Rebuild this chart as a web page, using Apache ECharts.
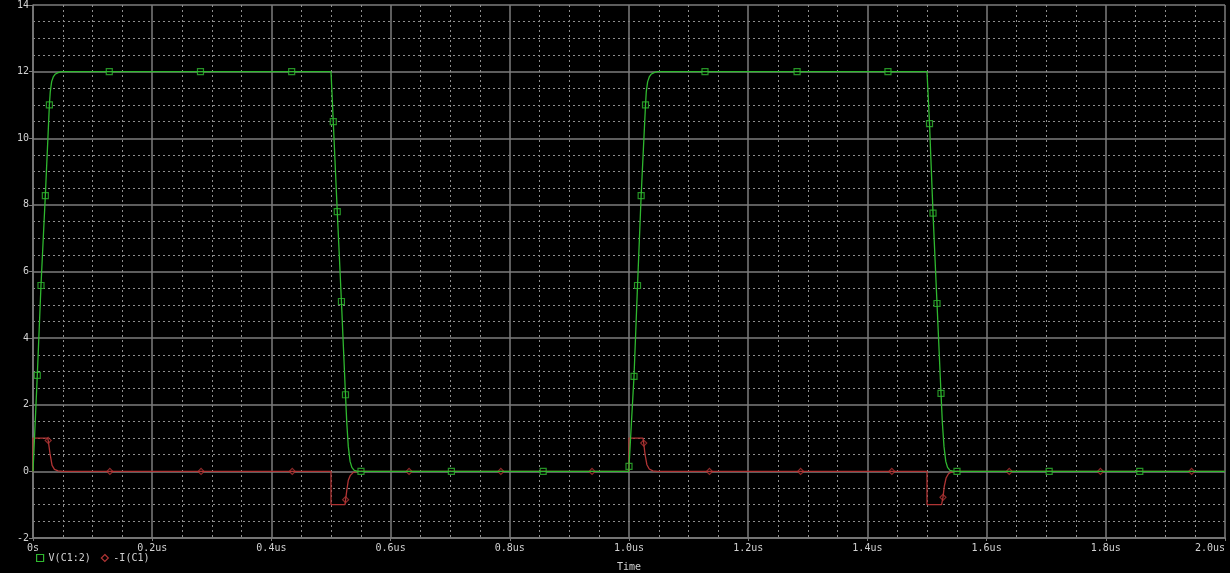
<!DOCTYPE html>
<html>
<head>
<meta charset="utf-8">
<script src="https://cdn.jsdelivr.net/npm/echarts@6/dist/echarts.min.js"></script>
<style>
  html, body { margin: 0; padding: 0; background: #000; }
  #main { width: 1230px; height: 573px; }
</style>
</head>
<body>
<div id="main"></div>
<script>
// V(C1:2) trace, time in us
const vTime = [0, 0.0072, 0.0134, 0.0207, 0.0275, 0.029, 0.0313, 0.034, 0.037, 0.042, 0.048,
  0.5, 0.5038, 0.5105, 0.5175, 0.5243, 0.5265, 0.529, 0.532, 0.535, 0.539, 0.545,
  0.9996, 1.0, 1.0084, 1.0143, 1.0204, 1.0277, 1.029, 1.0313, 1.034, 1.037, 1.042, 1.048,
  1.5, 1.5042, 1.5101, 1.5168, 1.5235, 1.5258, 1.5285, 1.5315, 1.5345, 1.5385, 1.545, 2.0];
const vVolt = [0, 2.88, 5.58, 8.28, 11.0, 11.4, 11.7, 11.84, 11.92, 11.97, 12,
  12, 10.5, 7.8, 5.1, 2.3, 1.45, 0.75, 0.3, 0.12, 0.03, 0,
  0, 0.15, 2.85, 5.58, 8.28, 11.0, 11.4, 11.7, 11.84, 11.92, 11.97, 12,
  12, 10.44, 7.75, 5.04, 2.34, 1.45, 0.75, 0.3, 0.12, 0.03, 0, 0];

// -I(C1) trace
const iTime = [0, 0, 0.0245, 0.0255, 0.0285, 0.032, 0.036, 0.042, 0.05,
  0.5, 0.5, 0.5235, 0.5245, 0.5265, 0.529, 0.5325, 0.5375, 0.545,
  1.0, 1.0, 1.0235, 1.0247, 1.027, 1.030, 1.034, 1.040, 1.048,
  1.5, 1.5, 1.5245, 1.5268, 1.529, 1.532, 1.536, 1.541, 1.548, 2.0];
const iAmp = [0, 1, 1, 0.93, 0.54, 0.18, 0.06, 0.015, 0,
  0, -1, -1, -0.85, -0.57, -0.27, -0.12, -0.03, 0,
  0, 1, 1, 0.85, 0.5, 0.2, 0.07, 0.015, 0,
  0, -1, -1, -0.78, -0.45, -0.2, -0.07, -0.015, 0, 0];

// trace markers
const vMarkT = [0.0072, 0.0134, 0.0207, 0.0275, 0.128, 0.281, 0.434, 0.5038, 0.5105, 0.5175, 0.5243,
  0.5503, 0.702, 0.856, 1.0, 1.0084, 1.0143, 1.0204, 1.0277, 1.1275, 1.282, 1.4345,
  1.5042, 1.5101, 1.5168, 1.5235, 1.5503, 1.705, 1.857];
const vMarkV = [2.88, 5.58, 8.28, 11.0, 12, 12, 12, 10.5, 7.8, 5.1, 2.3,
  0, 0, 0, 0.15, 2.85, 5.58, 8.28, 11.0, 12, 12, 12,
  10.44, 7.75, 5.04, 2.34, 0, 0, 0];
const iMarkT = [0.0255, 0.129, 0.282, 0.435, 0.5245, 0.631, 0.785, 0.938,
  1.0247, 1.135, 1.288, 1.441, 1.5268, 1.638, 1.791, 1.944];
const iMarkV = [0.93, 0, 0, 0, -0.85, 0, 0, 0,
  0.85, 0, 0, 0, -0.78, 0, 0, 0];

const zip = (a, b) => a.map((x, k) => [x, b[k]]);

const green = '#2fb82f';
const red = '#b03434';
const txt = '#d2d2d2';
const major = '#7c7c7c';
const minor = '#8e8e8e';
const font = 'DejaVu Sans Mono';

var myChart = echarts.init(document.getElementById('main'));
var option = {
    backgroundColor: '#000',
    animation: false,
    grid: { left: 33, right: 5, top: 5, bottom: 35, outerBoundsMode: 'none', containLabel: false },
    legend: {
        left: 31, top: 548,
        itemWidth: 7, itemHeight: 7, itemGap: 10,
        textStyle: { color: txt, fontFamily: font, fontSize: 10 },
        data: [
            { name: 'V(C1:2)', icon: 'rect', itemStyle: { color: '#000', borderColor: green, borderWidth: 1.2 } },
            { name: '-I(C1)', icon: 'diamond', itemStyle: { color: '#000', borderColor: red, borderWidth: 1.2 } }
        ]
    },
    xAxis: {
        type: 'value', min: 0, max: 2.0, interval: 0.2,
        name: 'Time', nameLocation: 'middle', nameGap: 24,
        nameTextStyle: { color: txt, fontFamily: font, fontSize: 10 },
        axisLine: { onZero: false, lineStyle: { color: major, width: 1.5 } },
        axisTick: { length: 3, lineStyle: { color: major } },
        axisLabel: {
            color: txt, fontFamily: font, fontSize: 10, margin: 5,
            alignMaxLabel: 'right',
            formatter: v => v === 0 ? '0s' : v.toFixed(1) + 'us'
        },
        splitLine: { lineStyle: { color: major, width: 1.5 } },
        minorTick: { show: false, splitNumber: 4 },
        minorSplitLine: { show: true, lineStyle: { color: minor, type: [2, 3], width: 1 } }
    },
    yAxis: {
        type: 'value', min: -2, max: 14, interval: 2,
        axisLine: { show: true, lineStyle: { color: major, width: 1.5 } },
        axisTick: { show: true, length: 4, lineStyle: { color: major } },
        axisLabel: { color: txt, fontFamily: font, fontSize: 10, margin: 4 },
        splitLine: { lineStyle: { color: major, width: 1.5 } },
        minorTick: { show: false, splitNumber: 4 },
        minorSplitLine: { show: true, lineStyle: { color: minor, type: [2, 3], width: 1 } }
    },
    series: [
        {
            name: '-I(C1)', type: 'line', data: zip(iTime, iAmp),
            showSymbol: false, lineStyle: { color: red, width: 1.3 }, itemStyle: { color: red }
        },
        {
            name: 'V(C1:2)', type: 'line', data: zip(vTime, vVolt),
            showSymbol: false, lineStyle: { color: green, width: 1.3 }, itemStyle: { color: green }
        },
        {
            name: '-I(C1)', type: 'scatter', data: zip(iMarkT, iMarkV),
            symbol: 'diamond', symbolSize: 6,
            itemStyle: { color: '#000', borderColor: red, borderWidth: 1.2 }
        },
        {
            name: 'V(C1:2)', type: 'scatter', data: zip(vMarkT, vMarkV),
            symbol: 'rect', symbolSize: 6,
            itemStyle: { color: '#000', borderColor: green, borderWidth: 1.2 }
        }
    ]
};
option && myChart.setOption(option);
</script>
</body>
</html>
